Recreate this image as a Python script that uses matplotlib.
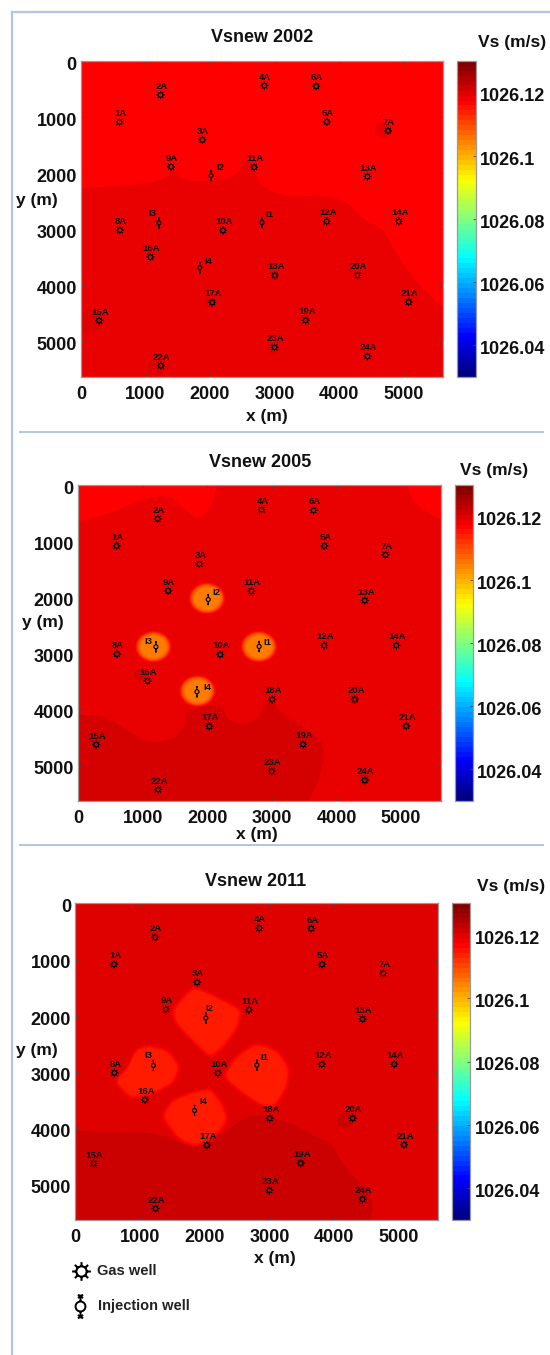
import matplotlib
matplotlib.use("Agg")
import matplotlib.pyplot as plt
import numpy as np
from matplotlib.patches import PathPatch, Ellipse
from matplotlib.path import Path
from matplotlib.colors import Normalize, LinearSegmentedColormap
from matplotlib.cm import ScalarMappable
from matplotlib.transforms import ScaledTranslation

plt.rcParams['font.family'] = ['Liberation Sans', 'DejaVu Sans']

W, H = 550, 1355

# well positions (m)
gas_names = ["1A","2A","3A","4A","5A","6A","7A","8A","9A","10A","11A","12A","13A","14A","15A","16A","17A","18A","19A","20A","21A","22A","23A","24A"]
gas_x = [597,1233,1880,2841,3813,3645,4758,603,1396,2200,2683,3808,4438,4927,282,1075,2032,3004,3482,4286,5079,1238,2998,4438]
gas_y = [1085,605,1405,439,1085,450,1245,3013,1886,3019,1892,2859,2058,2859,4626,3493,4300,3820,4620,3820,4294,5427,5101,5261]
inj_names = ["I1","I2","I3","I4"]
inj_x = [2803,2015,1206,1841]
inj_y = [2877,2040,2883,3683]

vmin, vmax = 1026.03, 1026.13
cbar_ticks = [1026.04,1026.06,1026.08,1026.1,1026.12]
xticks = [0,1000,2000,3000,4000,5000]
yticks = [0,1000,2000,3000,4000,5000]

# Vs levels seen in the maps
v_red = 1026.1175
v_mid = 1026.1195
v_mid2 = 1026.1205
v_dark = 1026.1215
v_darker = 1026.1225

# 2002
base_2002 = v_red
r02_dark_x = [-600,646,1190,1353,1407,1515,1787,2222,2439,2547,2683,2721,2928,3254,3743,4123,4394,4666,4883,5209,5700,6300,6300,-600]
r02_dark_y = [2300,2224,2147,2046,1880,2088,2147,2117,1999,1790,1810,2117,2325,2414,2396,2503,2829,2977,3422,3956,4500,4900,6300,6300]
s02_x = [1190,130,4680,3440,2980,2010]
s02_y = [5430,4640,1230,4620,5120,4300]
s02_r = [170,200,130,100,100,100]
s02_v = [v_mid2,v_mid2,v_mid,v_mid2,v_mid2,v_mid2]

# 2005
base_2005 = v_mid
r05_top1_x = [-400,423,966,1400,1617,1834,2051,2180,2000,-400]
r05_top1_y = [780,534,267,178,386,620,416,-100,-600,-600]
r05_top2_x = [5000,5198,5610,6100,6100,5000]
r05_top2_y = [-300,327,623,800,-400,-400]
r05_dark_x = [-400,423,749,1129,1508,1671,1644,2051,2241,2322,2594,2838,2892,3055,3082,3407,3760,3814,3706,3500,3400,-400]
r05_dark_y = [4040,4127,4365,4602,4513,4246,4038,3919,3949,4186,4276,4127,3771,3830,4008,4246,4543,4840,5315,5800,6300,6300]
s05_x = [1997,1167,2800,1850]
s05_y = [2019,2880,2880,3670]
s05_r = [280,262,245,225,200]
s05_v = [1026.1165,1026.1135,1026.10975,1026.10725,1026.10525]
d05_x = [966,4270,4438]
d05_y = [3385,3820,5240]
d05_r = [100,80,90]

# 2011
base_2011 = v_mid2
b11_x = [[1843,2195,2575,2520,2304,2087,1816,1545,1491,1707],
         [1111,1436,1626,1518,1165,840,596,813,921],
         [2791,3117,3306,3279,3089,2900,2575,2276,2466],
         [2087,2276,2358,2195,1870,1599,1328,1491,1816]]
b11_y = [[1482,1660,1897,2193,2549,2756,2460,2134,1897,1600],
         [2519,2608,2905,3201,3408,3468,3171,2905,2608],
         [2478,2608,2905,3260,3616,3616,3379,3082,2727],
         [3290,3557,3853,4120,4327,4209,3794,3497,3349]]
# soft edge of the blobs: size factor and Vs of each layer
blob_scale = [1.06,1.02,0.98,0.93]
blob_v = [1026.1195,1026.118,1026.1165,1026.1148]
r11_dark_x = [-400,461,1003,1436,1762,2087,2358,2629,2954,3333,3713,3957,4092,4309,4526,4607,4553,4500,-400]
r11_dark_y = [4000,4078,4060,4149,4327,4268,4031,3794,3764,3912,4149,4268,4564,4890,5098,5335,5631,6300,6300]
d11_x = [4173]
d11_y = [3853]
d11_r = [135]

years = ["2002","2005","2011"]
# pixel layout of each panel: left, right, top, bottom, cbar left, cbar right
boxes = [(81,443,61,377,457,476),(78,440.5,485,801,454.6,472.8),(75.4,438.4,903.3,1220,452,470.4)]
title_xy = [(262,38),(260,462),(256,882)]
vs_xy = [(512,43),(494.5,471),(511,887)]
xlab_xy = [(267,416),(257,834),(274.6,1259)]
ylab_xy = [(37,200),(43,622),(37,1050)]
# injection well label offsets (px) per panel
inj_off = [[(8,-8),(9,-8),(-6,-9),(9,-6)],
           [(8,-4),(8,-7),(-8,-5),(10,-4)],
           [(8,-8),(4,-10),(-5,-10),(9,-9)]]

norm = Normalize(vmin, vmax)
# MATLAB style jet, pure red sits at 0.875
field_cmap = LinearSegmentedColormap.from_list("mjet", [(0,(0,0,.5)),(.125,(0,0,1)),(.375,(0,1,1)),(.625,(1,1,0)),(.875,(1,0,0)),(1,(.5,0,0))], N=512)
bar_cmap = field_cmap.resampled(64)

def col(v):
    return field_cmap(norm(v))

def smooth(xs, ys, f=0.3):
    # straight sides with rounded corners
    p = np.column_stack([xs, ys])
    prev = np.roll(p, 1, axis=0)
    nxt = np.roll(p, -1, axis=0)
    verts, codes = [], []
    for i in range(len(p)):
        a = p[i] + f * (prev[i] - p[i])
        c = p[i] + f * (nxt[i] - p[i])
        verts += [a, p[i], c]
        codes += [Path.MOVETO if i == 0 else Path.LINETO, Path.CURVE3, Path.CURVE3]
    verts.append(verts[0])
    codes.append(Path.LINETO)
    return Path(verts, codes)

def region(ax, xs, ys, v):
    ax.add_patch(PathPatch(smooth(xs, ys), facecolor=col(v), edgecolor="none"))

def spot(ax, x, y, r, v):
    ax.add_patch(Ellipse((x, y), 2*r, 2*r, facecolor=col(v), edgecolor="none"))

def gas_marker():
    circ = Path.unit_circle()
    verts = list(circ.vertices * 0.55)
    codes = list(circ.codes)
    for a in np.deg2rad(np.arange(0, 360, 45)):
        verts += [(0.55*np.cos(a), 0.55*np.sin(a)), (np.cos(a), np.sin(a))]
        codes += [Path.MOVETO, Path.LINETO]
    return Path(verts, codes)

def inj_marker(rad, wing):
    circ = Path.unit_circle()
    verts = list(circ.vertices * rad)
    codes = list(circ.codes)
    for s in (1, -1):
        verts += [(0, s*rad), (0, s)]
        codes += [Path.MOVETO, Path.LINETO]
        verts += [(-wing, s), (wing, s*0.72), (wing, s), (-wing, s*0.72)]
        codes += [Path.MOVETO, Path.LINETO, Path.MOVETO, Path.LINETO]
    return Path(verts, codes)

def fx(px):
    return px / W

def fy(py):
    return 1 - py / H

fig = plt.figure(figsize=(W/100, H/100), dpi=100)
down = ScaledTranslation(0, -2.2/100, fig.dpi_scale_trans)

# page frame
frame = "#b0c6e2"
fig.add_artist(plt.Line2D([fx(12),fx(12)],[fy(12),fy(1355)],color=frame,lw=1.6))
fig.add_artist(plt.Line2D([fx(12),fx(550)],[fy(12),fy(12)],color=frame,lw=1.6))
fig.add_artist(plt.Line2D([fx(20),fx(543)],[fy(432),fy(432)],color=frame,lw=1.4))
fig.add_artist(plt.Line2D([fx(20),fx(543)],[fy(845),fy(845)],color=frame,lw=1.4))

gm = gas_marker()
im = inj_marker(0.36, 0.0)

for k, year in enumerate(years):
    l, r, t, b, cl, cr = boxes[k]
    ax = fig.add_axes([fx(l), fy(b), (r-l)/W, (b-t)/H])
    ax.set_xlim(0, 5610)
    ax.set_ylim(5630, 0)

    if k == 0:
        ax.set_facecolor(col(base_2002))
        region(ax, r02_dark_x, r02_dark_y, v_mid)
        for a, c, d, e in zip(s02_x, s02_y, s02_r, s02_v):
            spot(ax, a, c, d, e)
    elif k == 1:
        ax.set_facecolor(col(base_2005))
        region(ax, r05_top1_x, r05_top1_y, v_red)
        region(ax, r05_top2_x, r05_top2_y, v_red)
        region(ax, r05_dark_x, r05_dark_y, v_dark)
        for a, c, d in zip(d05_x, d05_y, d05_r):
            spot(ax, a, c, d, v_dark)
        for a, c in zip(s05_x, s05_y):
            for d, e in zip(s05_r, s05_v):
                spot(ax, a, c, d, e)
    else:
        ax.set_facecolor(col(base_2011))
        region(ax, r11_dark_x, r11_dark_y, v_darker)
        for a, c, d in zip(d11_x, d11_y, d11_r):
            spot(ax, a, c, d, v_darker)
        for a, c in zip(b11_x, b11_y):
            for sc, e in zip(blob_scale, blob_v):
                mx, my = np.mean(a), np.mean(c)
                region(ax, mx + sc*(np.array(a)-mx), my + sc*(np.array(c)-my), e)

    # wells
    g = ax.scatter(gas_x, gas_y, marker=gm, s=5.8**2, facecolors="none", edgecolors="k", linewidths=0.75, zorder=3)
    g.set_snap(False)
    for n, a, c in zip(gas_names, gas_x, gas_y):
        ax.annotate(n, (a, c), xytext=(1, 8.5), textcoords="offset pixels", ha="center", va="center", fontsize=6.8, fontweight="bold", color="#111111")
    i_pts = ax.scatter(inj_x, inj_y, marker=im, s=8**2, facecolors="none", edgecolors="k", linewidths=0.85, zorder=3)
    i_pts.set_snap(False)
    for i, (n, a, c) in enumerate(zip(inj_names, inj_x, inj_y)):
        dx, dy = inj_off[k][i]
        ax.annotate(n, (a, c), xytext=(dx, -dy), textcoords="offset pixels", ha="center", va="center", fontsize=6.8, fontweight="bold", color="#111111")

    ax.set_xlim(0, 5610)
    ax.set_ylim(5630, 0)
    ax.set_xticks(xticks)
    ax.set_yticks(yticks)
    ax.tick_params(direction="in", top=True, right=True, length=2, width=0.6, color="#444444", labelsize=13)
    ax.tick_params(axis="x", pad=6.5)
    ax.tick_params(axis="y", pad=3)
    for lab in ax.get_xticklabels() + ax.get_yticklabels():
        lab.set_fontweight("bold")
        lab.set_color("#111111")
    for lab in ax.get_yticklabels():
        lab.set_transform(lab.get_transform() + down)
    for s in ax.spines.values():
        s.set_color("#999999")
        s.set_linewidth(0.9)

    cax = fig.add_axes([fx(cl), fy(b), (cr-cl)/W, (b-t)/H])
    cb = fig.colorbar(ScalarMappable(norm=norm, cmap=bar_cmap), cax=cax, ticks=cbar_ticks)
    cb.ax.set_yticklabels(["1026.04","1026.06","1026.08","1026.1","1026.12"], fontsize=13, fontweight="bold", color="#111111")
    cb.ax.tick_params(direction="in", length=2, width=0.6, color="#444444", pad=3)
    for lab in cb.ax.get_yticklabels():
        lab.set_transform(lab.get_transform() + down)
    cb.outline.set_edgecolor("#999999")
    cb.outline.set_linewidth(0.9)

    fig.text(fx(title_xy[k][0]), fy(title_xy[k][1]), "Vsnew " + year, ha="center", va="center", fontsize=13, fontweight="bold", color="#111111")
    fig.text(fx(vs_xy[k][0]), fy(vs_xy[k][1]), "Vs (m/s)", ha="center", va="center", fontsize=12.5, fontweight="bold", color="#111111")
    fig.text(fx(xlab_xy[k][0]), fy(xlab_xy[k][1]), "x (m)", ha="center", va="center", fontsize=12.5, fontweight="bold", color="#111111")
    fig.text(fx(ylab_xy[k][0]), fy(ylab_xy[k][1]), "y (m)", ha="center", va="center", fontsize=12.5, fontweight="bold", color="#111111")

# legend under the last panel
lg = fig.add_axes([0, 0, 1, 1], facecolor="none")
lg.set_xlim(0, W)
lg.set_ylim(H, 0)
lg.axis("off")
lg.plot([80.7], [1271], marker=gm, ms=13.5, mfc="none", mec="k", mew=1.5)
lg.plot([80.3], [1306], marker=inj_marker(0.42, 0.22), ms=17, mfc="none", mec="k", mew=1.4)
lg.text(97, 1271, "Gas well", ha="left", va="center", fontsize=10.5, fontweight="bold", color="#222222")
lg.text(98, 1306, "Injection well", ha="left", va="center", fontsize=10.5, fontweight="bold", color="#222222")

fig.savefig("out.png", dpi=100)
